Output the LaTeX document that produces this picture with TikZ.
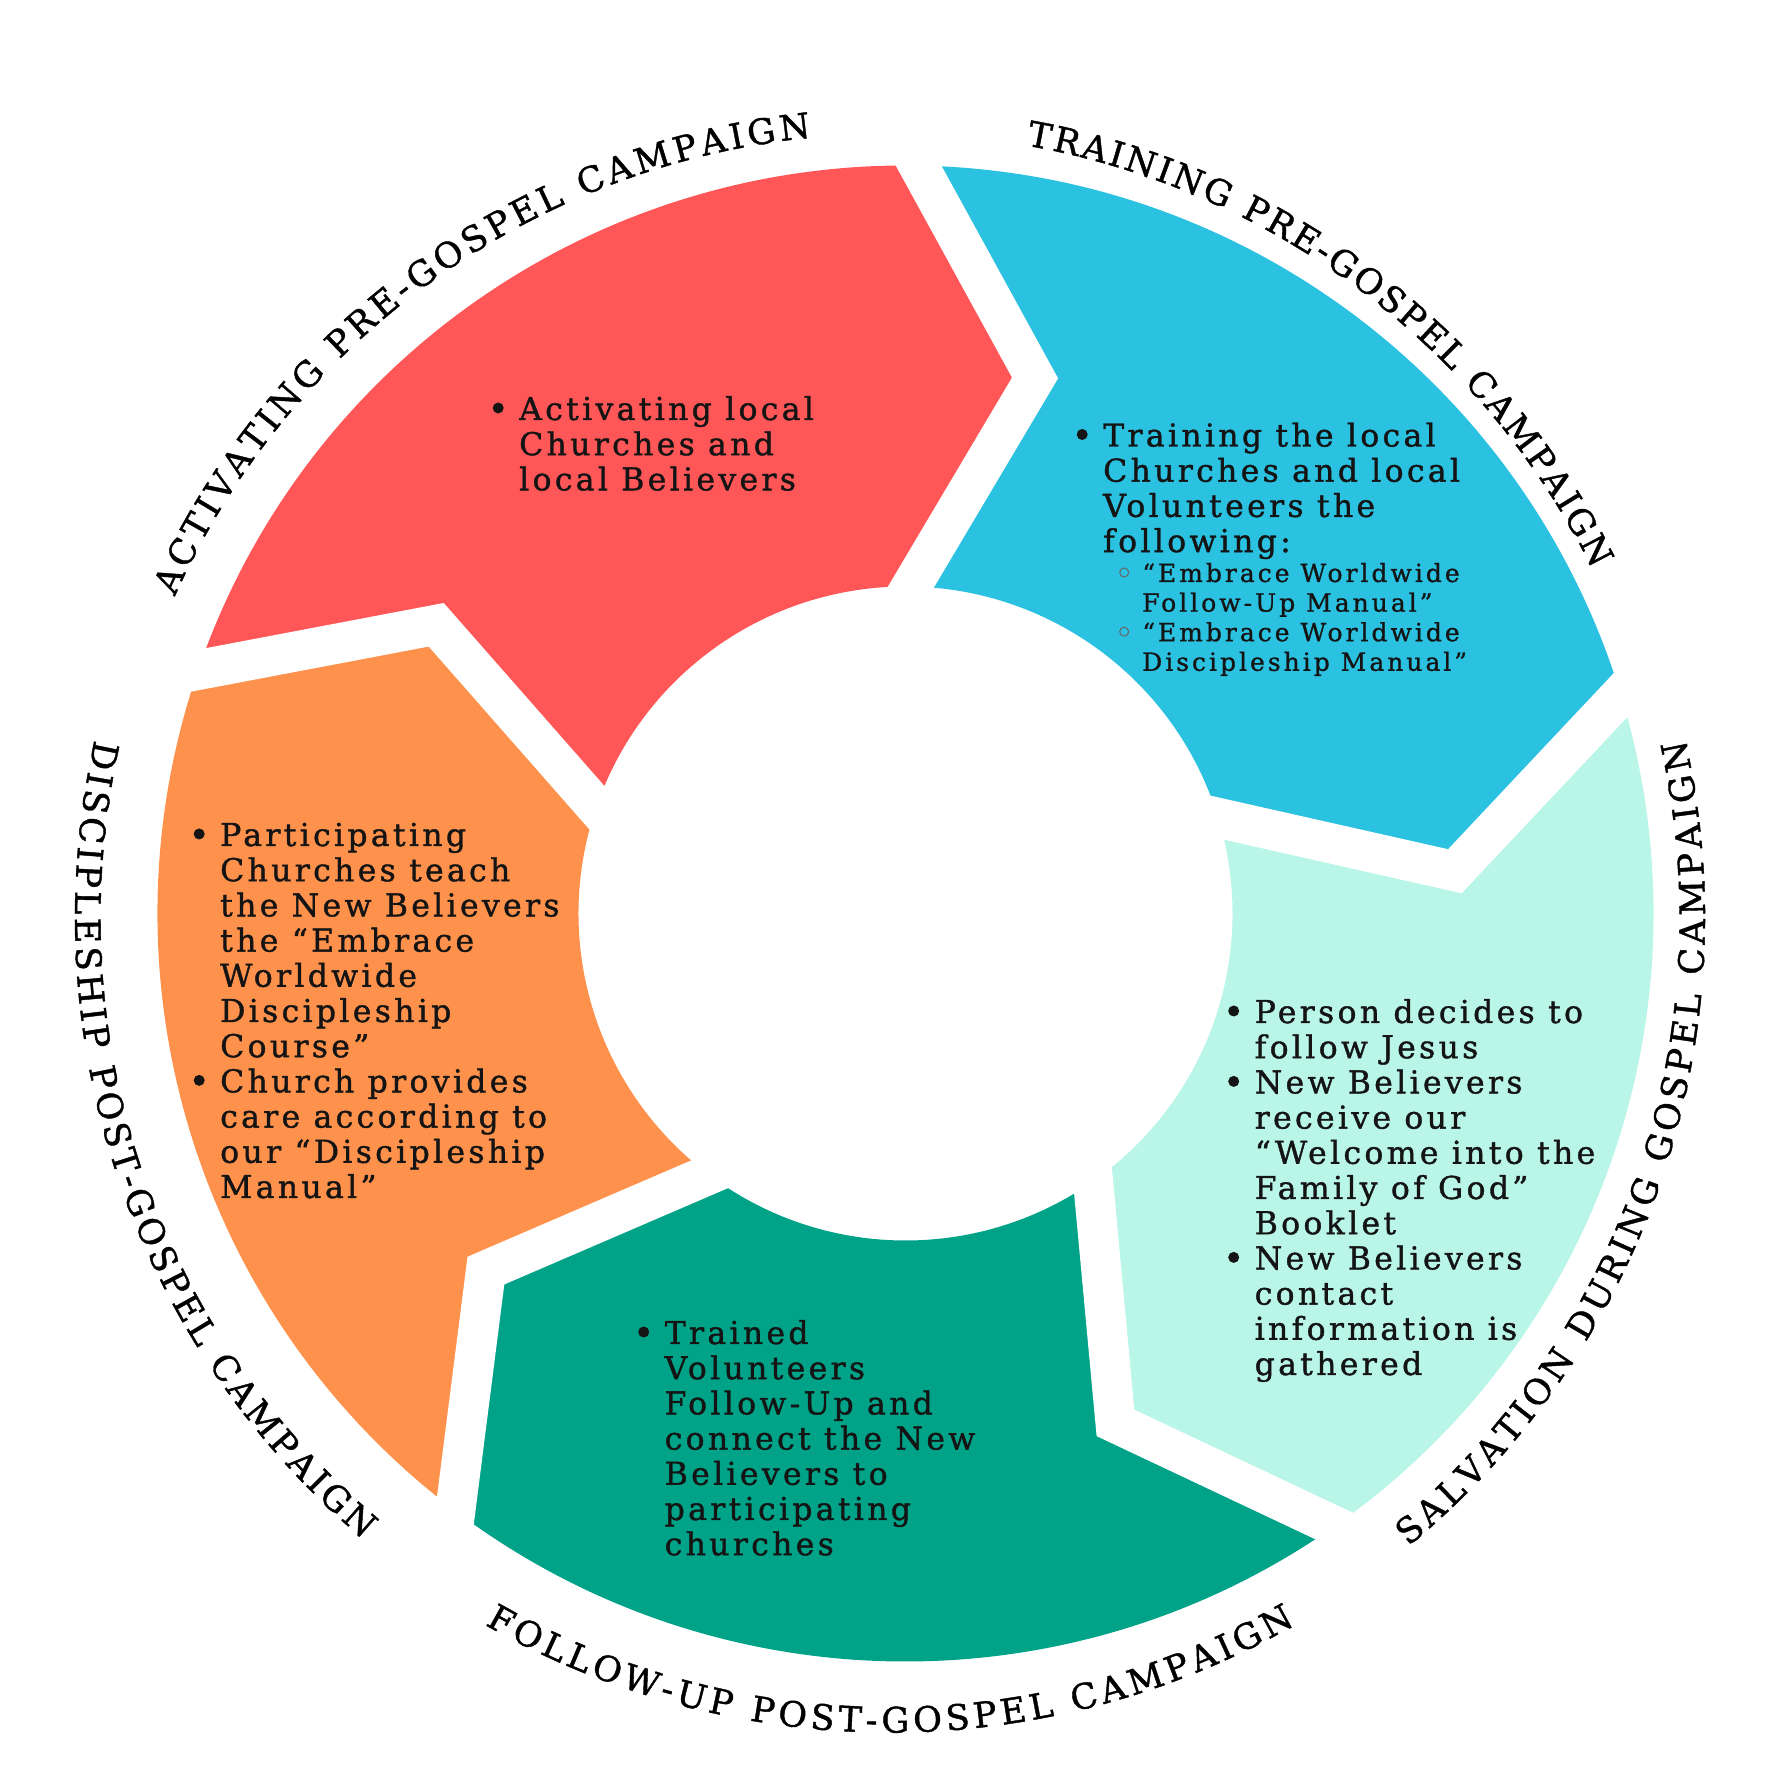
\documentclass[tikz,border=0pt]{standalone}
\usepackage{fontspec}
\setmainfont{DejaVu Serif}
\newfontfamily\symfont{DejaVu Sans}
\usetikzlibrary{decorations.text,calc}
\definecolor{cred}{HTML}{FF5757}
\definecolor{cblue}{HTML}{2BC1E0}
\definecolor{cmint}{HTML}{B9F6E7}
\definecolor{cgreen}{HTML}{00A388}
\definecolor{corange}{HTML}{FE914C}
\definecolor{ctext}{HTML}{141414}
\newcommand\bodyfont{\fontsize{31.5}{35.2}\selectfont\addfontfeature{LetterSpace=10.5,FakeBold=1.2}}
\newcommand\subfont{\fontsize{25}{29.6}\selectfont\addfontfeature{LetterSpace=12,FakeBold=1}}
\newcommand\labfont{\fontsize{35}{40}\selectfont\addfontfeature{FakeBold=1.2}}
\newcommand\bul{\makebox[42pt][c]{\raisebox{6.5pt}{\tikz\fill[ctext] (0,0) circle[radius=5.5pt];}}}
\newcommand\ind{\hspace*{42pt}}
\newcommand\sbul{\makebox[36pt][c]{\raisebox{4.5pt}{\tikz\draw[ctext!65, line width=1pt] (0,0) circle[radius=4.5pt];}}}
\newcommand\sind{\hspace*{36pt}}
\begin{document}
\begin{tikzpicture}[x=1pt,y=1pt,
  body/.style={anchor=base west, inner sep=0pt, text=ctext, font=\bodyfont},
  subbody/.style={anchor=base west, inner sep=0pt, text=ctext, font=\subfont},
  gap/.style={white, line width=40pt, line join=miter, line cap=butt},
  lab/.style={decorate, decoration={text along path, text align={fit to path}, text={|\labfont|#1}}}]
\useasboundingbox (0,0) rectangle (1786,1786);
\fill[white] (0,0) rectangle (1786,1786);
\begin{scope}[shift={(905.5,872.5)}]
\def\Rout{748}\def\Rin{327}\def\Rmid{551}\def\Off{12.6}
\foreach \h/\col in {89/cred, 17/cblue, -55/cmint, -127/cgreen, -199/corange}{
  \pgfmathsetmacro\t{\h+72}
  \pgfmathsetmacro\ht{\h-\Off}
  \pgfmathsetmacro\tt{\t-\Off}
  \fill[\col] (\t:\Rout pt) arc[start angle=\t, end angle=\h, radius=\Rout pt]
     -- (\ht:\Rmid pt) -- (\h:\Rin pt)
     arc[start angle=\h, end angle=\t, radius=\Rin pt] -- (\tt:\Rmid pt) -- cycle;
}
\foreach \b in {89, 17, -55, -127, -199}{
  \pgfmathsetmacro\bt{\b-\Off}
  \coordinate (O) at (\b:\Rout pt);
  \coordinate (T) at (\bt:\Rmid pt);
  \coordinate (I) at (\b:\Rin pt);
  \draw[gap] ($(T)!1.12!(O)$) -- (T) -- ($(T)!1.14!(I)$);
}
\end{scope}
\begin{scope}[shift={(890,868.4)}]
\path[lab={ACTIVATING PRE-GOSPEL CAMPAIGN}] (155.8:784pt) arc[start angle=155.8, end angle=95.8, radius=784pt];
\path[lab={TRAINING PRE-GOSPEL CAMPAIGN}] (80:784pt) arc[start angle=80, end angle=26.4, radius=784pt];
\path[lab={SALVATION DURING GOSPEL CAMPAIGN}] (-50.5:815pt) arc[start angle=-50.5, end angle=12.6, radius=815pt];
\path[lab={FOLLOW-UP POST-GOSPEL CAMPAIGN}] (-119.8:815pt) arc[start angle=-119.8, end angle=-60.2, radius=815pt];
\path[lab={DISCIPLESHIP POST-GOSPEL CAMPAIGN}] (167.4:815pt) arc[start angle=167.4, end angle=229.7, radius=815pt];
\end{scope}

\node[body] (redtxt) at (477,1366) {\begin{tabular}[t]{@{}l@{}}\bul Activating local\\ \ind Churches and\\ \ind local Believers\end{tabular}};

\node[body] (bluetxt) at (1061,1339.5) {\begin{tabular}[t]{@{}l@{}}\bul Training the local\\ \ind Churches and local\\ \ind Volunteers the\\ \ind following:\end{tabular}};
\node[subbody] (bluesub) at (1106,1204) {\begin{tabular}[t]{@{}l@{}}\sbul “Embrace Worldwide\\ \sind Follow-Up Manual”\\ \sbul “Embrace Worldwide\\ \sind Discipleship Manual”\end{tabular}};

\node[body] (mintxt) at (1212.5,763) {\begin{tabular}[t]{@{}l@{}}\bul Person decides to\\ \ind follow Jesus\\ \bul New Believers\\ \ind receive our\\ \ind “Welcome into the\\ \ind Family of God”\\ \ind Booklet\\ \bul New Believers\\ \ind contact\\ \ind information is\\ \ind gathered\end{tabular}};

\node[body] (greentxt) at (622.5,442) {\begin{tabular}[t]{@{}l@{}}\bul Trained\\ \ind Volunteers\\ \ind Follow-Up and\\ \ind connect the New\\ \ind Believers to\\ \ind participating\\ \ind churches\end{tabular}};

\node[body] (orangetxt) at (178,940) {\begin{tabular}[t]{@{}l@{}}\bul Participating\\ \ind Churches teach\\ \ind the New Believers\\ \ind the “Embrace\\ \ind Worldwide\\ \ind Discipleship\\ \ind Course”\\ \bul Church provides\\ \ind care according to\\ \ind our “Discipleship\\ \ind Manual”\end{tabular}};
\end{tikzpicture}
\end{document}
